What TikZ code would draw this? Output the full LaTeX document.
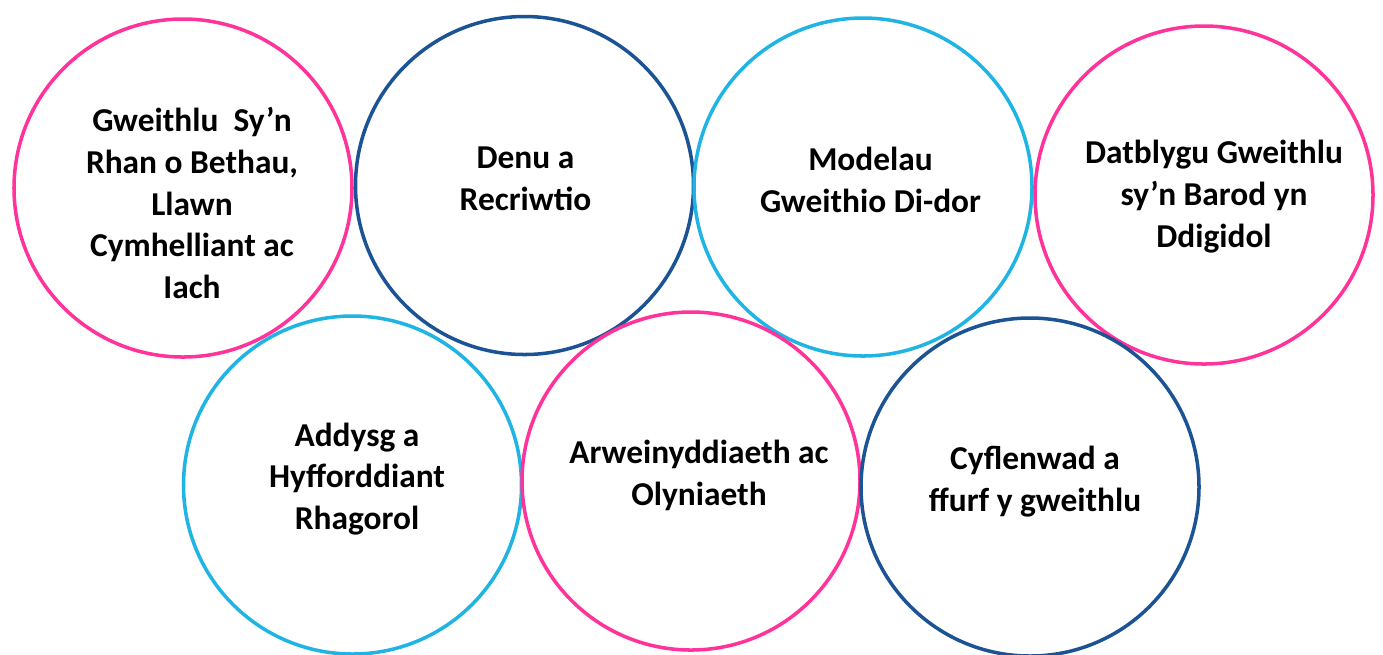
\documentclass[tikz,border=0pt]{standalone}
\usepackage{fontspec}
\setmainfont{Carlito}
\usepackage{xcolor}
\definecolor{ringpink}{HTML}{FF3399}
\definecolor{ringnavy}{HTML}{1C5394}
\definecolor{ringsky}{HTML}{1FB4E4}

\begin{document}
\begin{tikzpicture}[
    ring/.style={circle, draw, line width=1pt, minimum size=3.38cm, inner sep=0pt},
    words/.style={align=center, font=\bfseries\fontsize{9.5}{11.9}\selectfont}]
    % Frame
    \useasboundingbox (0,0) rectangle (13.83,-6.54);

    % Top row of circles
    \node[ring, draw=ringpink] (gweithlu) at (1.83,-1.88) {};
    \node[ring, draw=ringnavy] (denu) at (5.245,-1.855) {};
    \node[ring, draw=ringsky] (modelau) at (8.63,-1.87) {};
    \node[ring, draw=ringpink] (datblygu) at (12.04,-1.95) {};

    % Bottom row of circles
    \node[ring, draw=ringsky] (addysg) at (3.525,-4.85) {};
    \node[ring, draw=ringpink] (arwein) at (6.91,-4.81) {};
    \node[ring, draw=ringnavy] (cyflenwad) at (10.30,-4.87) {};

    % Texts in the circles
    \node[words] (gweithlutext) at (1.92,-2.03) {Gweithlu\ \ Sy’n\\Rhan o Bethau,\\Llawn\\Cymhelliant ac\\Iach};
    \node[words] (denutext) at (5.255,-1.785) {Denu a\\Recriwtio};
    \node[words] (modelautext) at (8.705,-1.795) {Modelau\\Gweithio Di-dor};
    \node[words] (datblygutext) at (12.14,-1.965) {Datblygu Gweithlu\\sy’n Barod yn\\Ddigidol};
    \node[words] (addysgtext) at (3.57,-4.79) {Addysg a\\Hyfforddiant\\Rhagorol};
    \node[words] (arweintext) at (6.99,-4.75) {Arweinyddiaeth ac\\Olyniaeth};
    \node[words] (cyflenwadtext) at (10.35,-4.82) {Cyflenwad a\\ffurf y gweithlu};
\end{tikzpicture}
\end{document}
